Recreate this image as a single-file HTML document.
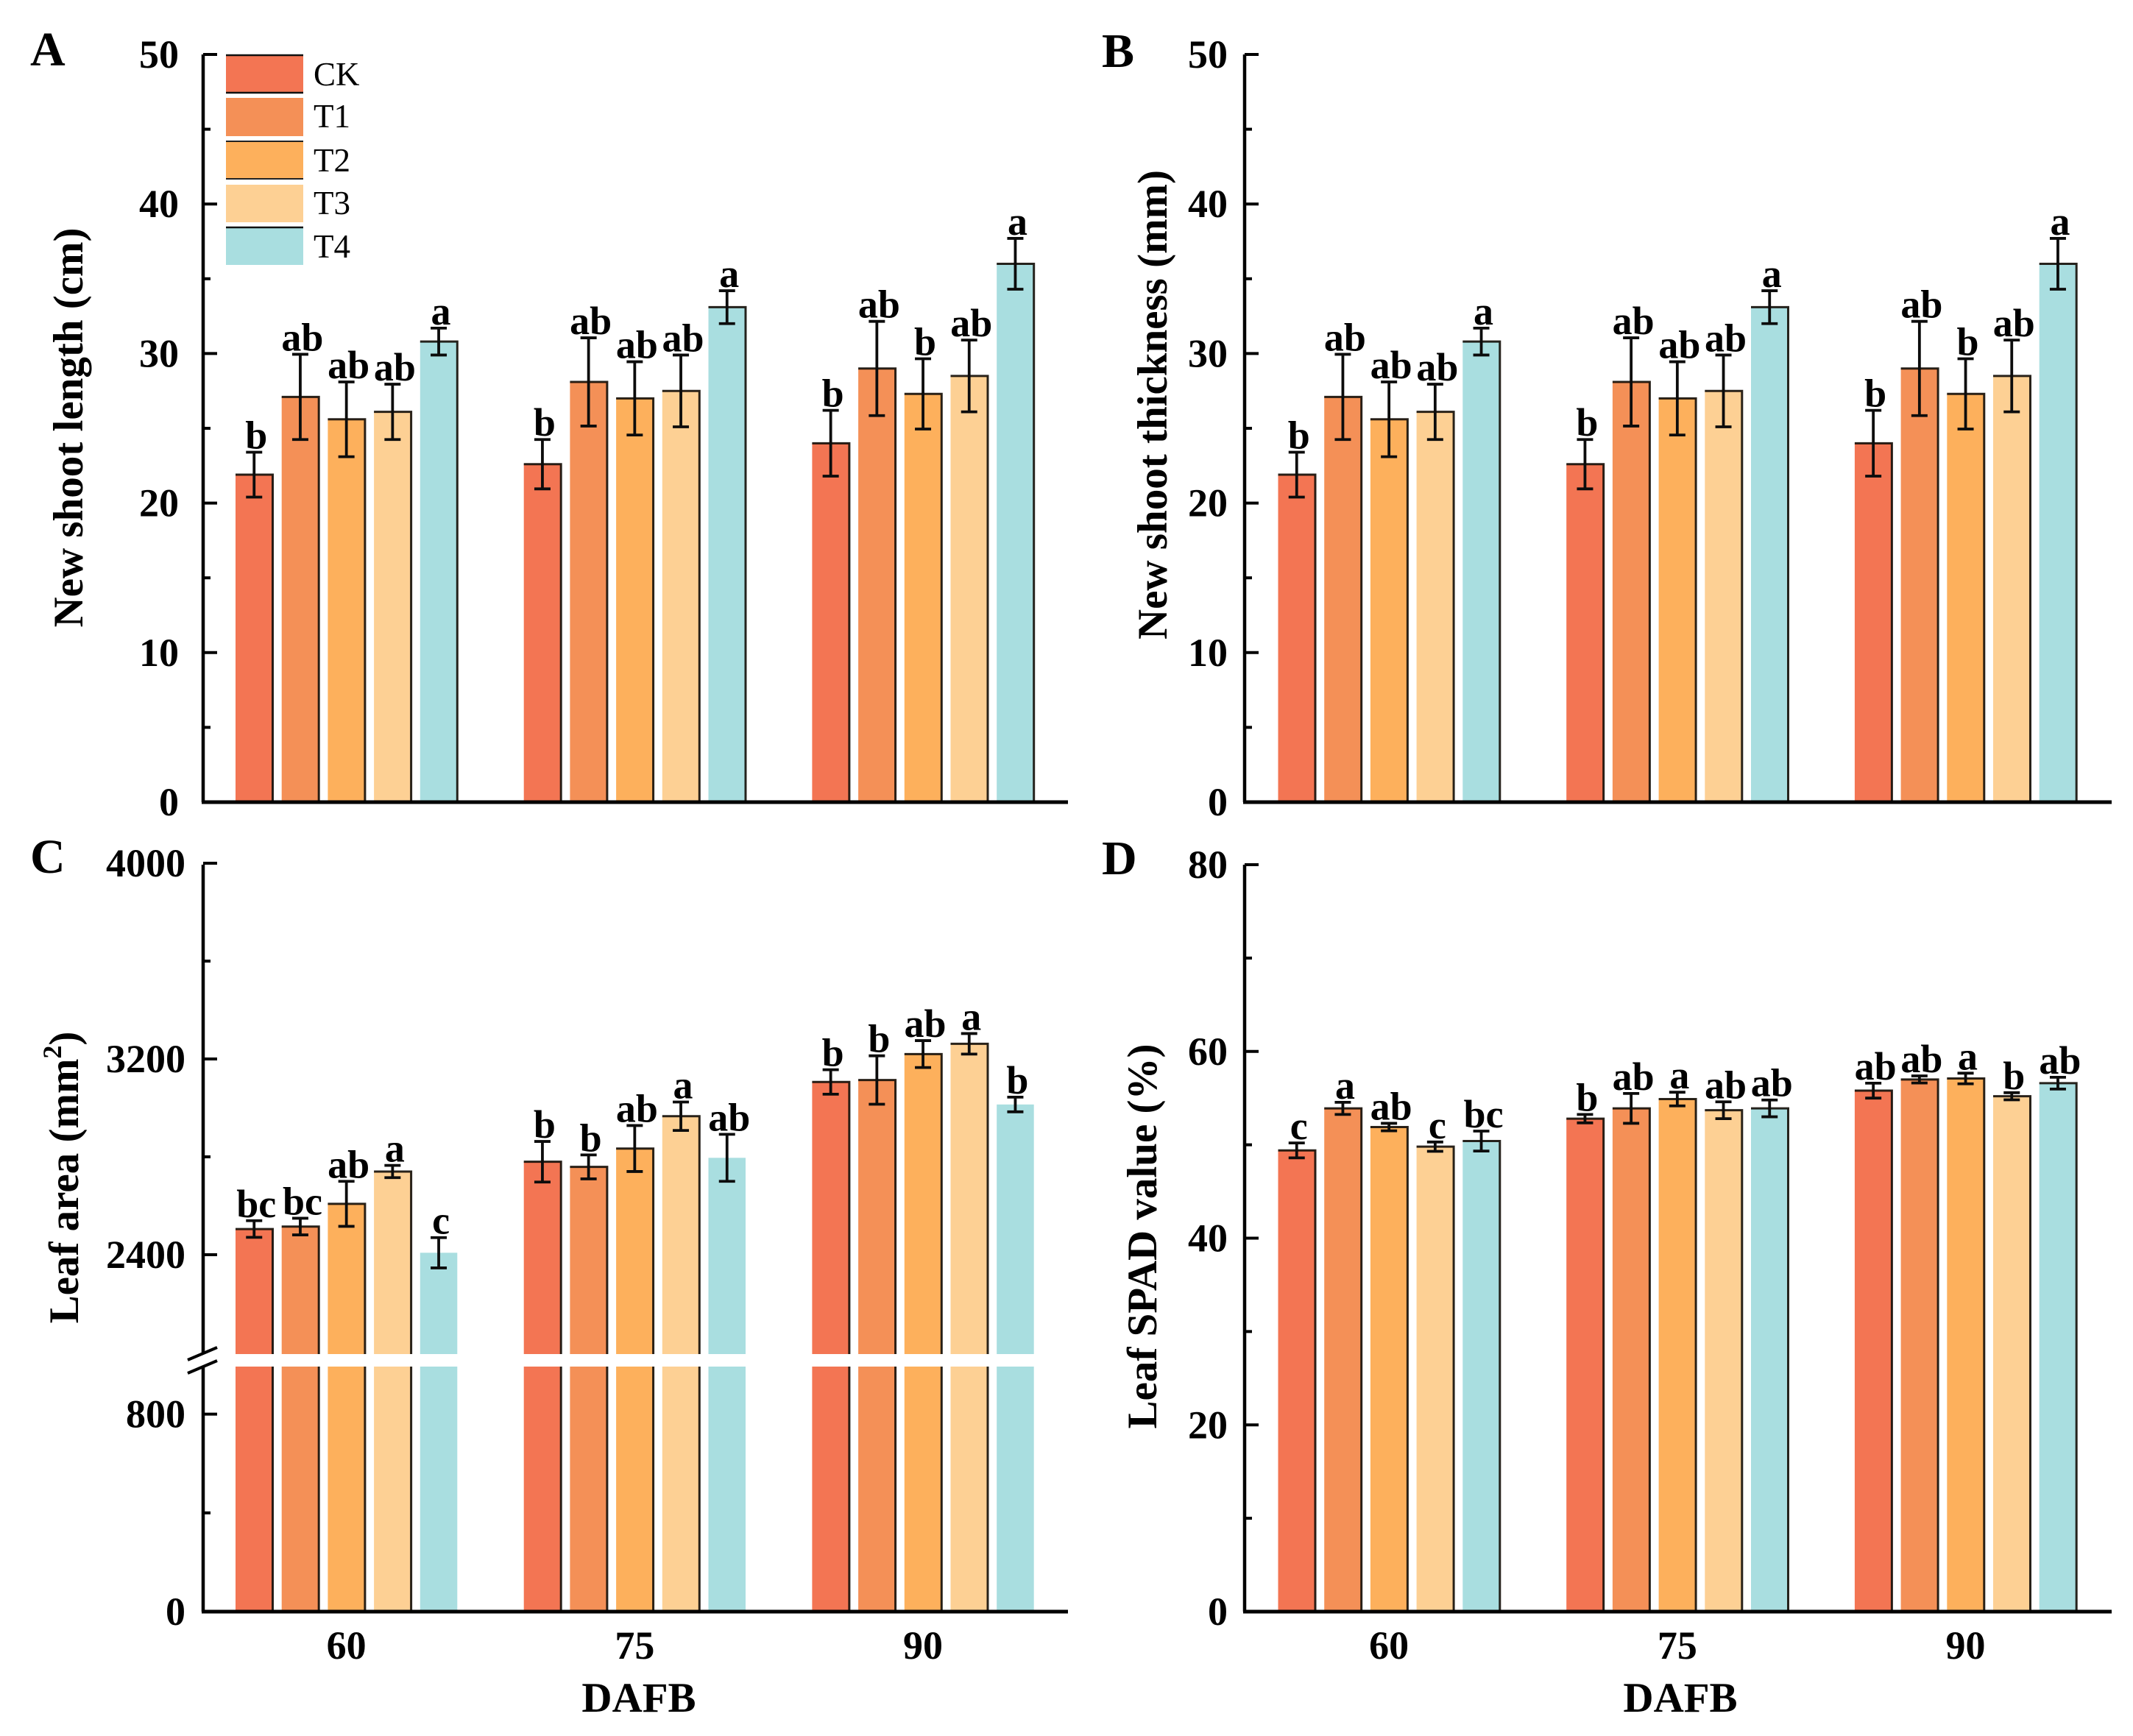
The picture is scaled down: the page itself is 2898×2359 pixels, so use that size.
<!DOCTYPE html>
<html lang="en">
<head>
<meta charset="utf-8">
<title>Shoot and leaf measurements by DAFB</title>
<style>
html,body{margin:0;padding:0;background:#fff;}
svg{display:block;}
text{font-family:"Liberation Serif","Times New Roman",serif;fill:#000;}
.b{font-weight:bold;}
</style>
</head>
<body>
<svg id="fig" xmlns="http://www.w3.org/2000/svg" width="2898" height="2359" viewBox="0 0 2898 2359">
  <rect x="0" y="0" width="2898" height="2359" fill="#fff"/>
  <g id="plots"></g>

  <g>
    <g>
      <rect x="307" y="74" width="105" height="52" fill="#F37553"/>
      <path d="M307 75H412M307 126H412" stroke="#111" stroke-width="2.5" fill="none"/>
      <text x="426" y="116" font-size="45">CK</text>
    </g>
    <g>
      <rect x="307" y="133" width="105" height="52" fill="#F49057"/>
      <text x="426" y="173" font-size="45">T1</text>
    </g>
    <g>
      <rect x="307" y="191" width="105" height="53" fill="#FDB05C"/>
      <path d="M307 192H412M307 243H412" stroke="#222" stroke-width="2" fill="none"/>
      <text x="426" y="233" font-size="45">T2</text>
    </g>
    <g>
      <rect x="307" y="251" width="105" height="51" fill="#FDD094"/>
      <text x="426" y="291" font-size="45">T3</text>
    </g>
    <g>
      <rect x="307" y="308" width="105" height="52" fill="#A9DEE0"/>
      <path d="M307 309H412" stroke="#111" stroke-width="2.5" fill="none"/>
      <text x="426" y="350" font-size="45">T4</text>
    </g>
  </g>

  <text class="b" x="41" y="89" font-size="66">A</text>
  <text class="b" x="1497" y="91" font-size="66">B</text>
  <text class="b" x="41" y="1186" font-size="66">C</text>
  <text class="b" x="1497" y="1188" font-size="66">D</text>

  <text class="b" font-size="57" text-anchor="middle" transform="translate(112 581) rotate(-90)">New shoot length (cm)</text>
  <text class="b" font-size="57" text-anchor="middle" transform="translate(1585 550) rotate(-90)">New shoot thickness (mm)</text>
  <text class="b" font-size="57" text-anchor="middle" transform="translate(106 1600) rotate(-90)">Leaf area (mm<tspan font-size="36" dy="-23">2</tspan><tspan dy="23">)</tspan></text>
  <text class="b" font-size="57" text-anchor="middle" transform="translate(1571 1680) rotate(-90)">Leaf SPAD value (%)</text>

  <text class="b" font-size="57" text-anchor="middle" x="868" y="2326">DAFB</text>
  <text class="b" font-size="57" text-anchor="middle" x="2283" y="2326">DAFB</text>
</svg>

<script>
var categories = ['60', '75', '90'];
var seriesNames = ['CK', 'T1', 'T2', 'T3', 'T4'];

var lengthValues = [[21.9, 27.1, 25.6, 26.1, 30.8], [22.6, 28.1, 27.0, 27.5, 33.1], [24.0, 29.0, 27.3, 28.5, 36.0]];
var lengthErrors = [[1.5, 2.85, 2.5, 1.85, 0.9], [1.65, 2.95, 2.45, 2.4, 1.1], [2.2, 3.15, 2.35, 2.4, 1.7]];
var lengthLetters = [['b', 'ab', 'ab', 'ab', 'a'], ['b', 'ab', 'ab', 'ab', 'a'], ['b', 'ab', 'b', 'ab', 'a']];

var thicknessValues = [[21.9, 27.1, 25.6, 26.1, 30.8], [22.6, 28.1, 27.0, 27.5, 33.1], [24.0, 29.0, 27.3, 28.5, 36.0]];
var thicknessErrors = [[1.5, 2.85, 2.5, 1.85, 0.9], [1.65, 2.95, 2.45, 2.4, 1.1], [2.2, 3.15, 2.35, 2.4, 1.7]];
var thicknessLetters = [['b', 'ab', 'ab', 'ab', 'a'], ['b', 'ab', 'ab', 'ab', 'a'], ['b', 'ab', 'b', 'ab', 'a']];

var areaValues = [[2505, 2515, 2608, 2740, 2408], [2780, 2759, 2834, 2966, 2796], [3106, 3114, 3220, 3262, 3014]];
var areaErrors = [[34, 34, 92, 25, 62], [83, 49, 94, 58, 96], [50, 99, 55, 42, 30]];
var areaLetters = [['bc', 'bc', 'ab', 'a', 'c'], ['b', 'b', 'ab', 'a', 'ab'], ['b', 'b', 'ab', 'a', 'b']];

var spadValues = [[49.4, 53.9, 51.9, 49.8, 50.4], [52.8, 53.9, 54.9, 53.7, 53.9], [55.8, 57.0, 57.1, 55.2, 56.6]];
var spadErrors = [[0.8, 0.65, 0.4, 0.5, 1.07], [0.45, 1.6, 0.73, 0.9, 0.9], [0.8, 0.38, 0.57, 0.38, 0.63]];
var spadLetters = [['c', 'a', 'ab', 'c', 'bc'], ['b', 'ab', 'a', 'ab', 'ab'], ['ab', 'ab', 'a', 'b', 'ab']];

var tickLabels50 = [0, 10, 20, 30, 40, 50];
var minorTicks50 = [5, 15, 25, 35, 45];
var tickLabelsArea = [0, 800, 2400, 3200, 4000];
var minorTicksArea = [400, 2800, 3600];
var tickLabelsSpad = [0, 20, 40, 60, 80];
var minorTicksSpad = [10, 30, 50, 70];

var seriesColors = ['#F37553', '#F49057', '#FDB05C', '#FDD094', '#A9DEE0'];
var SVGNS = 'http://www.w3.org/2000/svg';
var plots = document.getElementById('plots');

function mk(tag, attrs, parent) {
  var el = document.createElementNS(SVGNS, tag);
  for (var k in attrs) { el.setAttribute(k, attrs[k]); }
  parent.appendChild(el);
  return el;
}

function yLength(v) { return 1090 - v * 20.32; }
function yThickness(v) { return 1090 - v * 20.32; }
function ySpad(v) { return 2190 - v * (2190 - 1175) / 80; }
function yArea(v) {
  if (v <= 1000) { return 2190 - v * 0.3355; }
  if (v >= 2000) { return 1705 - (v - 2400) * 0.3325; }
  return 1854;
}

var panels = [
  { id: 'a', x0: 276, x1: 1451, bar0: 320, yTop: 74, yBase: 1090, y: yLength, vals: lengthValues, errs: lengthErrors, lets: lengthLetters, ticks: tickLabels50, minors: minorTicks50, tickRight: 243, xLabels: false },
  { id: 'b', x0: 1691, x1: 2869, bar0: 1736.5, yTop: 74, yBase: 1090, y: yThickness, vals: thicknessValues, errs: thicknessErrors, lets: thicknessLetters, ticks: tickLabels50, minors: minorTicks50, tickRight: 1668, xLabels: false },
  { id: 'c', x0: 276, x1: 1451, bar0: 320, yTop: 1175, yBase: 2190, y: yArea, vals: areaValues, errs: areaErrors, lets: areaLetters, ticks: tickLabelsArea, minors: minorTicksArea, tickRight: 252, xLabels: true, broken: true },
  { id: 'd', x0: 1691, x1: 2869, bar0: 1736.5, yTop: 1175, yBase: 2190, y: ySpad, vals: spadValues, errs: spadErrors, lets: spadLetters, ticks: tickLabelsSpad, minors: minorTicksSpad, tickRight: 1668, xLabels: true }
];

var BAR_W = 50.5, BAR_STEP = 62.7, GROUP_STEP = 391.7;

panels.forEach(function (p) {
  var g = mk('g', {}, plots);
  
  

  p.vals.forEach(function (row, gi) {
    row.forEach(function (v, si) {
      var bx = p.bar0 + gi * GROUP_STEP + si * BAR_STEP;
      var top = p.y(v);
      var cx = bx + BAR_W / 2;

      var bar = mk('rect', { x: bx, y: top, width: BAR_W, height: p.yBase - top, fill: seriesColors[si] }, g);
      
      

      var edge = mk('path', { d: 'M' + bx + ' ' + top + 'H' + (bx + BAR_W) + 'V' + p.yBase, fill: 'none', stroke: '#120c06', 'stroke-width': 3, 'stroke-opacity': si === 4 && p.id === 'c' ? 0 : 0.9 }, g);
      
      

      var hi = p.y(v + p.errs[gi][si]);
      var lo = p.y(v - p.errs[gi][si]);
      var err = mk('path', { d: 'M' + cx + ' ' + hi + 'V' + lo + 'M' + (cx - 11) + ' ' + hi + 'H' + (cx + 11) + 'M' + (cx - 11) + ' ' + lo + 'H' + (cx + 11), fill: 'none', stroke: '#0c0c0c', 'stroke-width': 3.8 }, g);
      
      

      var t = mk('text', { x: cx + 3, y: hi - 5, 'font-size': 54, 'text-anchor': 'middle', class: 'b' }, g);
      t.textContent = p.lets[gi][si];
      
      
    });
  });

  if (p.broken) {
    var band = mk('rect', { x: p.x0 + 25, y: 1840, width: p.x1 - p.x0 - 25, height: 17, fill: '#fff' }, g);
    
    
  }

  var axisPath = p.broken
    ? 'M' + p.x0 + ' ' + p.yTop + 'V1838M' + p.x0 + ' 1858V' + p.yBase
    : 'M' + p.x0 + ' ' + p.yTop + 'V' + p.yBase;
  var yAxis = mk('path', { d: axisPath, fill: 'none', stroke: '#000', 'stroke-width': 4.5 }, g);
  
  

  var xAxis = mk('path', { d: 'M' + (p.x0 - 2) + ' ' + p.yBase + 'H' + p.x1, fill: 'none', stroke: '#000', 'stroke-width': 5 }, g);
  
  

  if (p.broken) {
    var slashes = mk('path', { d: 'M255 1848L295 1831M255 1866L295 1849', fill: 'none', stroke: '#000', 'stroke-width': 4 }, g);
    
    
  }

  p.ticks.forEach(function (v) {
    var ty = p.y(v);
    if (v > 0) {
      var tick = mk('path', { d: 'M' + p.x0 + ' ' + ty + 'H' + (p.x0 + 19), stroke: '#000', 'stroke-width': 4, fill: 'none' }, g);
      
      
    }
    var lab = mk('text', { x: p.tickRight, y: ty + 18, 'font-size': 54, 'text-anchor': 'end', class: 'b' }, g);
    lab.textContent = String(v);
    
    
  });

  p.minors.forEach(function (v) {
    var ty = p.y(v);
    var tick = mk('path', { d: 'M' + p.x0 + ' ' + ty + 'H' + (p.x0 + 10), stroke: '#000', 'stroke-width': 4, fill: 'none' }, g);
    
    
  });

  if (p.xLabels) {
    categories.forEach(function (c, gi) {
      var lab = mk('text', { x: p.bar0 + gi * GROUP_STEP + 2 * BAR_STEP + BAR_W / 2, y: 2254, 'font-size': 54, 'text-anchor': 'middle', class: 'b' }, g);
      lab.textContent = c;
      
      
    });
  }
});
</script>
</body>
</html>
